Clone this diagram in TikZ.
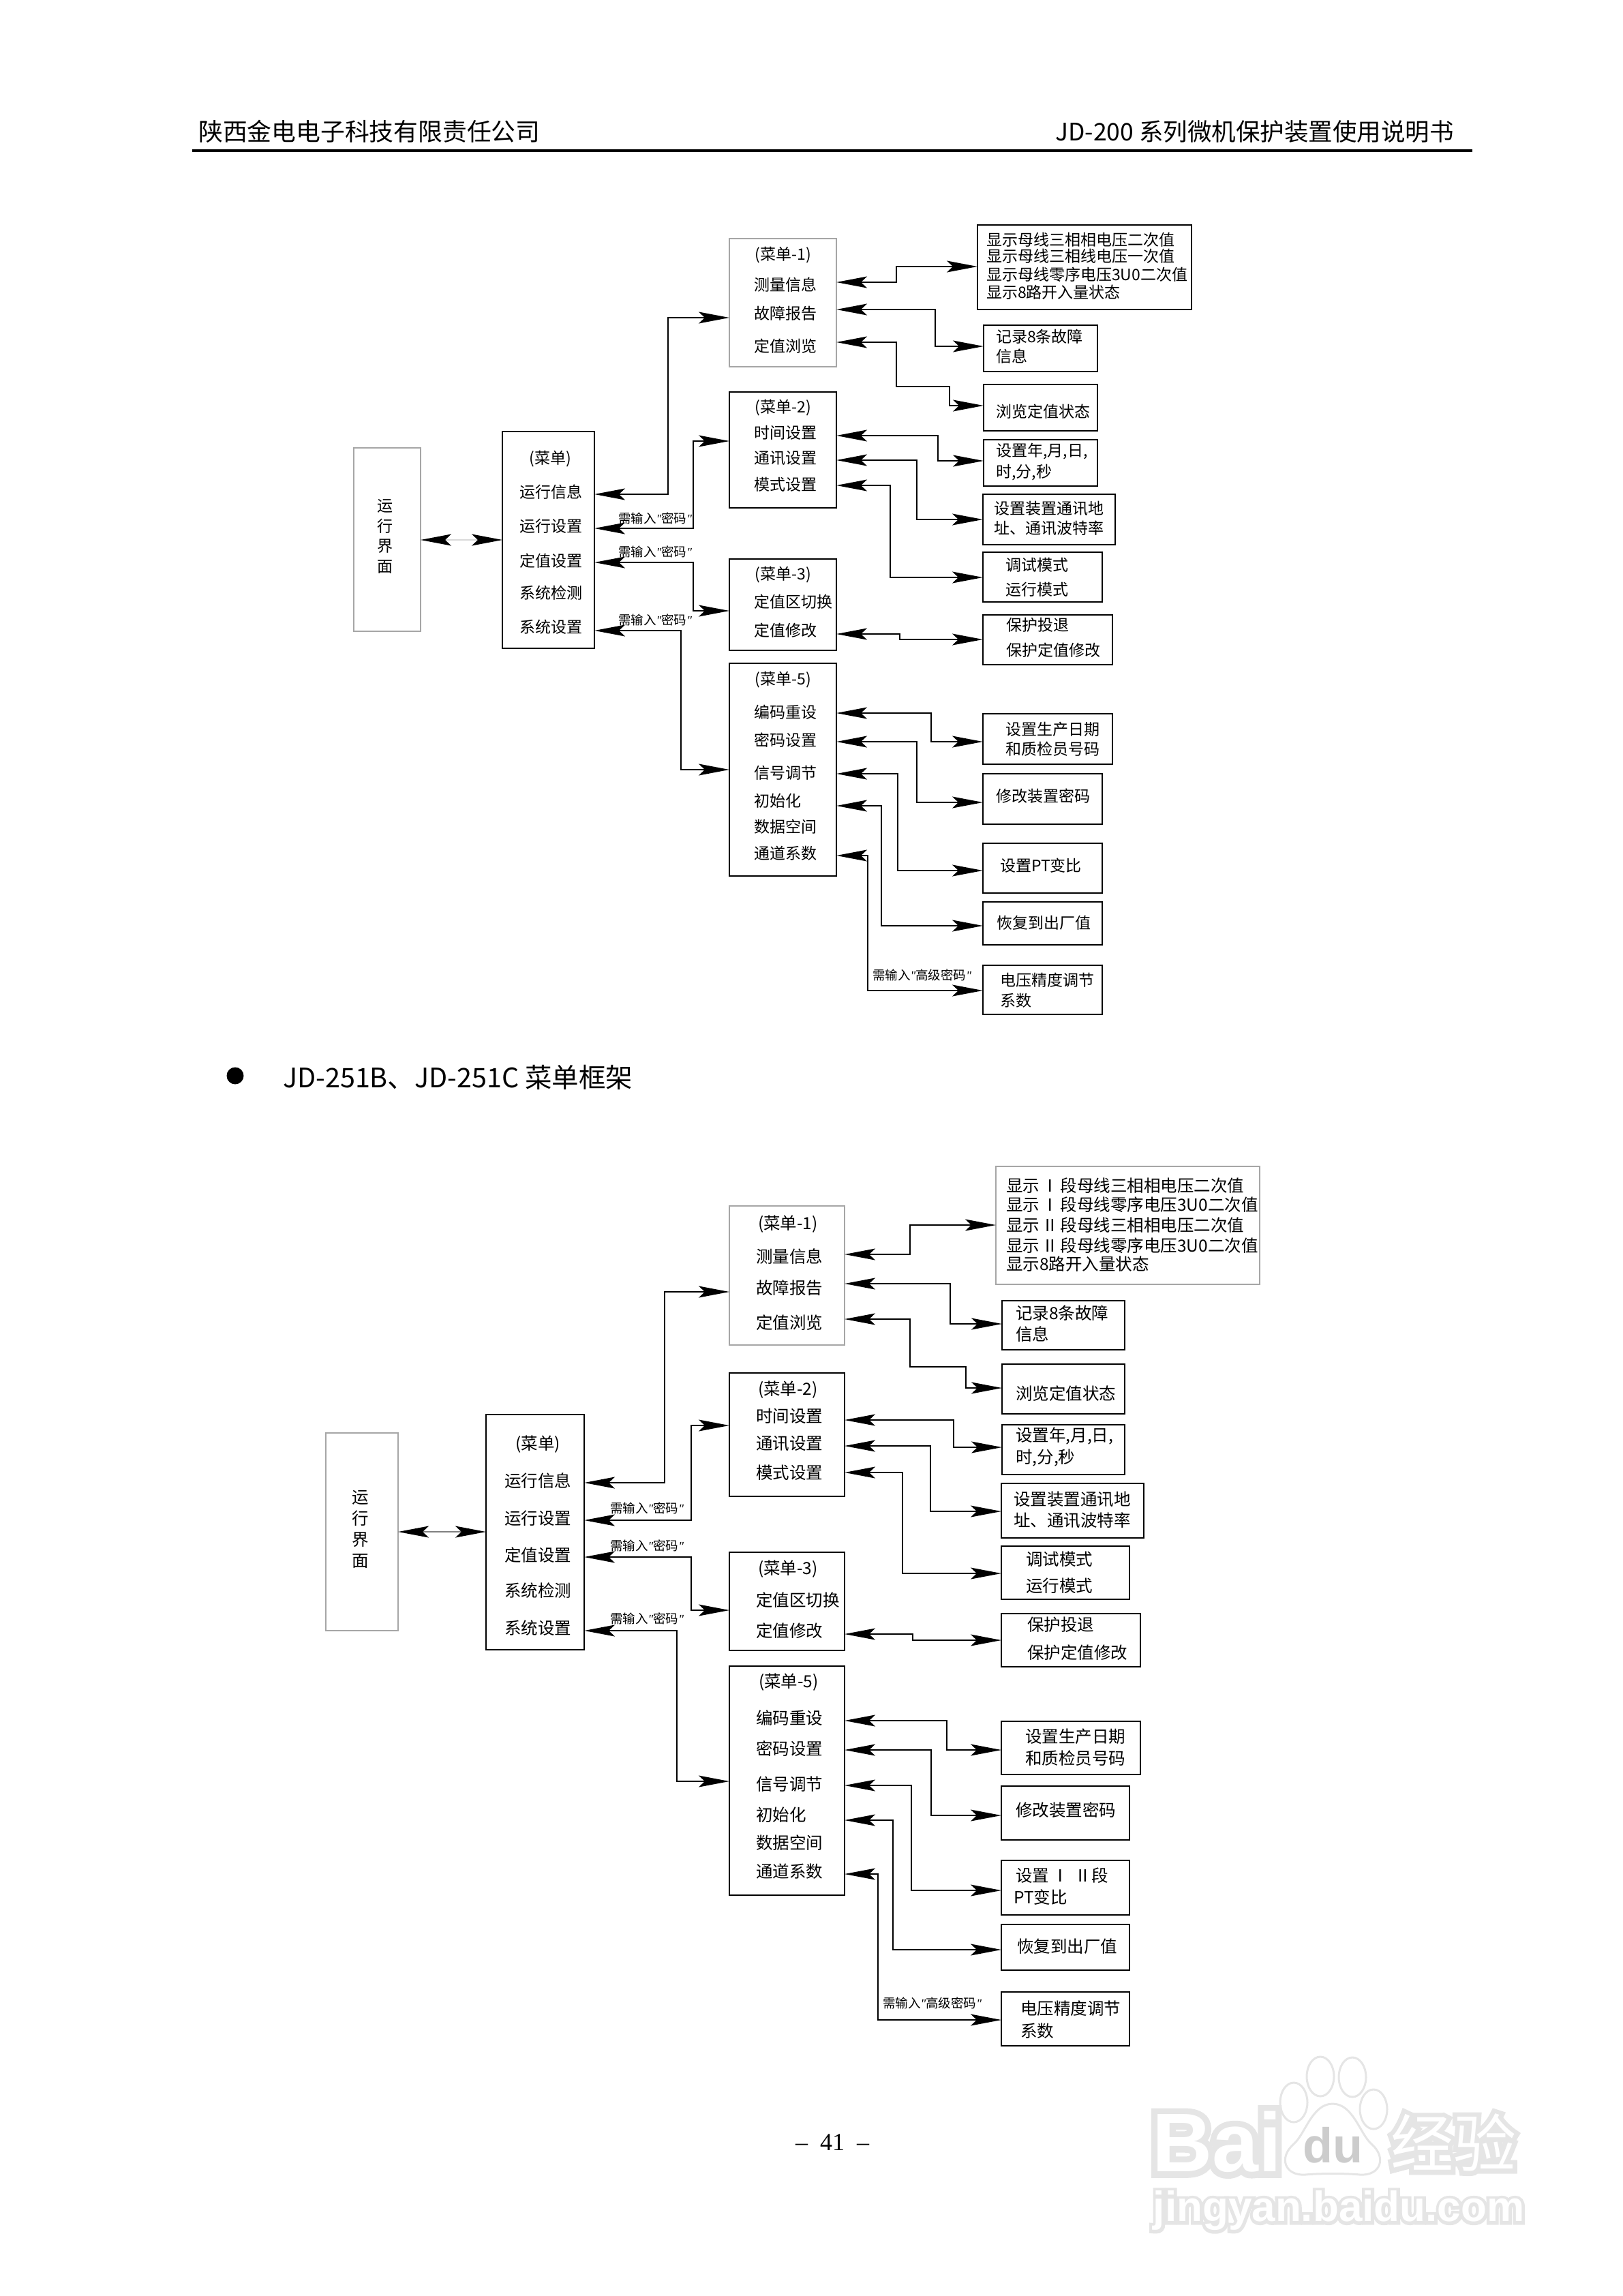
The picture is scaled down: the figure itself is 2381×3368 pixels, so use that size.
\documentclass[tikz,border=0pt]{standalone}
\usepackage{fontspec}
\usetikzlibrary{arrows.meta}
\setmainfont{Noto Sans CJK SC}
\newfontfamily\serifnum{Liberation Serif}
\newfontfamily\wmlatin[FakeBold=15]{Liberation Sans Bold}
\newfontfamily\wmlatinthin{Liberation Sans Bold}
\newfontfamily\wmcjk[FakeBold=15]{Noto Sans CJK SC}
\newfontfamily\wmcjkthin{Noto Sans CJK SC}
\newcommand{\qm}{{\serifnum\itshape"}}
\begin{document}
\begin{tikzpicture}[x=1pt, y=-1pt, >={Stealth[length=45pt,width=17pt,inset=9pt]},
    main/.style = {draw, line width=1.6pt, inner sep=0pt, outer sep=0pt},
    faint/.style = {draw=gray!70, line width=1.6pt, inner sep=0pt, outer sep=0pt},
    item/.style = {anchor=west, inner sep=0pt, font=\fontsize{23}{29.5}\selectfont},
    itemb/.style = {anchor=west, inner sep=0pt, font=\fontsize{24.5}{31}\selectfont},
    menu/.style = {inner sep=0pt, font=\fontsize{23}{29.5}\selectfont},
    menub/.style = {inner sep=0pt, font=\fontsize{24.5}{31}\selectfont},
    note/.style = {anchor=west, inner sep=0pt, font=\fontsize{18.5}{20}\selectfont},
    link/.style = {<->, line width=1.7pt},
    runlink/.style = {{Stealth[length=45pt,width=17pt,inset=9pt,black]}-{Stealth[length=45pt,width=17pt,inset=9pt,black]}},
    wmback/.style = {inner sep=0pt, text=black!10},
    wmfront/.style = {inner sep=0pt, text=white}]
\useasboundingbox (0,0) rectangle (2381,3368);

% page header
\node[anchor=west, inner sep=0pt, font=\fontsize{35.8}{40}\selectfont] (company) at (291,193) {陕西金电电子科技有限责任公司};
\node[anchor=east, inner sep=0pt, font=\fontsize{35.5}{40}\selectfont] (manual) at (2133,193) {JD-200 系列微机保护装置使用说明书};
\coordinate (ruleL) at (282,221);
\coordinate (ruleR) at (2160,221);
\draw[line width=3.5pt] (ruleL) -- (ruleR);

% upper diagram: boxes
\node[faint, minimum width=98pt, minimum height=269pt] (Run) at (568,791.5) {};
\node[main, minimum width=135pt, minimum height=318pt] (M) at (804.5,792) {};
\node[faint, minimum width=157pt, minimum height=188pt] (A) at (1148.5,444) {};
\node[main, minimum width=157pt, minimum height=170pt] (B) at (1148.5,660) {};
\node[main, minimum width=157pt, minimum height=134pt] (C) at (1148.5,887) {};
\node[main, minimum width=157pt, minimum height=312pt] (D) at (1148.5,1129) {};
\node[main, minimum width=314pt, minimum height=124pt] (R1) at (1591,392) {};
\node[main, minimum width=167pt, minimum height=68pt] (R2) at (1526.5,511) {};
\node[main, minimum width=167pt, minimum height=68pt] (R3) at (1526.5,598) {};
\node[main, minimum width=167pt, minimum height=68pt] (R4) at (1526.5,679) {};
\node[main, minimum width=194pt, minimum height=74pt] (R5) at (1539,762) {};
\node[main, minimum width=175pt, minimum height=73pt] (R6) at (1529.5,846.5) {};
\node[main, minimum width=190pt, minimum height=73pt] (R7) at (1537,938.5) {};
\node[main, minimum width=190pt, minimum height=74pt] (R8) at (1537,1084) {};
\node[main, minimum width=175pt, minimum height=74pt] (R9) at (1529.5,1172) {};
\node[main, minimum width=175pt, minimum height=73pt] (R10) at (1529.5,1273.5) {};
\node[main, minimum width=175pt, minimum height=63pt] (R11) at (1529.5,1354.5) {};
\node[main, minimum width=175pt, minimum height=72pt] (R12) at (1529.5,1452) {};

% upper diagram: texts
\node[menu, align=center] (tRun) at (565,787) {运\\行\\界\\面};
\node[menu] (tM0) at (807,673) {(菜单)};
\node[item] (tM1) at (762,722) {运行信息};
\node[item] (tM2) at (762,772) {运行设置};
\node[item] (tM3) at (762,823) {定值设置};
\node[item] (tM4) at (762,870) {系统检测};
\node[item] (tM5) at (762,920) {系统设置};
\node[menu] (tA0) at (1149,374) {(菜单-1)};
\node[item] (tA1) at (1106,418) {测量信息};
\node[item] (tA2) at (1106,460) {故障报告};
\node[item] (tA3) at (1106,508) {定值浏览};
\node[menu] (tB0) at (1149,598) {(菜单-2)};
\node[item] (tB1) at (1106,635) {时间设置};
\node[item] (tB2) at (1106,672) {通讯设置};
\node[item] (tB3) at (1106,711) {模式设置};
\node[menu] (tC0) at (1149,843) {(菜单-3)};
\node[item] (tC1) at (1106,883) {定值区切换};
\node[item] (tC2) at (1106,925) {定值修改};
\node[menu] (tD0) at (1149,997) {(菜单-5)};
\node[item] (tD1) at (1106,1044.5) {编码重设};
\node[item] (tD2) at (1106,1086) {密码设置};
\node[item] (tD3) at (1106,1134) {信号调节};
\node[item] (tD4) at (1106,1175) {初始化};
\node[item] (tD5) at (1106,1213) {数据空间};
\node[item] (tD6) at (1106,1252) {通道系数};
\node[item] (tR1a) at (1447,352) {显示母线三相相电压二次值};
\node[item] (tR1b) at (1447,376) {显示母线三相线电压一次值};
\node[item] (tR1c) at (1447,403) {显示母线零序电压3U0二次值};
\node[item] (tR1d) at (1447,429) {显示8路开入量状态};
\node[item] (tR2a) at (1461,494) {记录8条故障};
\node[item] (tR2b) at (1461,523) {信息};
\node[item] (tR3) at (1461,604) {浏览定值状态};
\node[item] (tR4a) at (1461,662) {设置年,月,日,};
\node[item] (tR4b) at (1461,693) {时,分,秒};
\node[item] (tR5a) at (1458,746) {设置装置通讯地};
\node[item] (tR5b) at (1458,775) {址、通讯波特率};
\node[item] (tR6a) at (1475,829) {调试模式};
\node[item] (tR6b) at (1475,865) {运行模式};
\node[item] (tR7a) at (1476,917) {保护投退};
\node[item] (tR7b) at (1476,954) {保护定值修改};
\node[item] (tR8a) at (1475,1070) {设置生产日期};
\node[item] (tR8b) at (1475,1099) {和质检员号码};
\node[item] (tR9) at (1461,1168) {修改装置密码};
\node[item] (tR10) at (1467,1270) {设置PT变比};
\node[item] (tR11) at (1462,1354) {恢复到出厂值};
\node[item] (tR12a) at (1467,1438) {电压精度调节};
\node[item] (tR12b) at (1467,1468) {系数};
\node[note] (nM2) at (907,760) {需输入\qm 密码\qm};
\node[note] (nM3) at (907,809) {需输入\qm 密码\qm};
\node[note] (nM5) at (907,909) {需输入\qm 密码\qm};
\node[note] (nD6) at (1280,1430) {需输入\qm 高级密码\qm};

% upper diagram: connectors
\draw[runlink, line width=1.7pt, draw=gray!30] (Run.east |- 0,792) -- (M.west |- 0,792);
\draw[link] (M.east |- 0,725) -- (980,725) -- (980,466) -- (A.west |- 0,466);
\draw[link] (M.east |- 0,775) -- (1017,775) -- (1017,647) -- (B.west |- 0,647);
\draw[link] (M.east |- 0,825) -- (1017,825) -- (1017,896) -- (C.west |- 0,896);
\draw[link] (M.east |- 0,925) -- (999,925) -- (999,1129) -- (D.west |- 0,1129);
\draw[link] (A.east |- 0,414) -- (1315,414) -- (1315,391) -- (R1.west |- 0,391);
\draw[link] (A.east |- 0,454) -- (1372,454) -- (1372,508) -- (R2.west |- 0,508);
\draw[link] (A.east |- 0,502) -- (1315,502) -- (1315,567) -- (1393,567) -- (1393,595) -- (R3.west |- 0,595);
\draw[link] (B.east |- 0,639) -- (1376,639) -- (1376,676) -- (R4.west |- 0,676);
\draw[link] (B.east |- 0,675) -- (1345,675) -- (1345,762) -- (R5.west |- 0,762);
\draw[link] (B.east |- 0,712) -- (1306,712) -- (1306,847) -- (R6.west |- 0,847);
\draw[link] (C.east |- 0,930) -- (1320,930) -- (1320,938) -- (R7.west |- 0,938);
\draw[link] (D.east |- 0,1046) -- (1366,1046) -- (1366,1088) -- (R8.west |- 0,1088);
\draw[link] (D.east |- 0,1088) -- (1345,1088) -- (1345,1177) -- (R9.west |- 0,1177);
\draw[link] (D.east |- 0,1135) -- (1317,1135) -- (1317,1277) -- (R10.west |- 0,1277);
\draw[link] (D.east |- 0,1182) -- (1293,1182) -- (1293,1358) -- (R11.west |- 0,1358);
\draw[link] (D.east |- 0,1255) -- (1273,1255) -- (1273,1453) -- (R12.west |- 0,1453);

% section title
\node[circle, fill, inner sep=0pt, minimum size=25pt] (dot) at (345,1578) {};
\node[anchor=west, inner sep=0pt, font=\fontsize{39.5}{44}\selectfont] (title) at (415,1580) {JD-251B、JD-251C 菜单框架};

% lower diagram: boxes
\node[faint, minimum width=106pt, minimum height=290pt] (Run2) at (531,2247) {};
\node[main, minimum width=144pt, minimum height=345pt] (M2) at (785,2247.5) {};
\node[faint, minimum width=169pt, minimum height=204pt] (A2) at (1154.5,1871) {};
\node[main, minimum width=169pt, minimum height=181pt] (B2) at (1154.5,2104.5) {};
\node[main, minimum width=169pt, minimum height=144pt] (C2) at (1154.5,2349) {};
\node[main, minimum width=169pt, minimum height=336pt] (D2) at (1154.5,2612) {};
\node[faint, minimum width=387pt, minimum height=173pt] (S1) at (1654.5,1797.5) {};
\node[main, minimum width=180pt, minimum height=72pt] (S2) at (1560,1944) {};
\node[main, minimum width=180pt, minimum height=73pt] (S3) at (1560,2037.5) {};
\node[main, minimum width=180pt, minimum height=73pt] (S4) at (1560,2126.5) {};
\node[main, minimum width=209pt, minimum height=80pt] (S5) at (1573.5,2216) {};
\node[main, minimum width=188pt, minimum height=78pt] (S6) at (1563,2307) {};
\node[main, minimum width=204pt, minimum height=78pt] (S7) at (1571,2406) {};
\node[main, minimum width=204pt, minimum height=78pt] (S8) at (1571,2564) {};
\node[main, minimum width=188pt, minimum height=79pt] (S9) at (1563,2659.5) {};
\node[main, minimum width=188pt, minimum height=80pt] (S10) at (1563,2769) {};
\node[main, minimum width=188pt, minimum height=67pt] (S11) at (1563,2856.5) {};
\node[main, minimum width=188pt, minimum height=79pt] (S12) at (1563,2961.5) {};

% lower diagram: texts
\node[menub, align=center] (uRun) at (529,2243.5) {运\\行\\界\\面};
\node[menub] (uM0) at (789,2119) {(菜单)};
\node[itemb] (uM1) at (740,2172) {运行信息};
\node[itemb] (uM2) at (740,2227) {运行设置};
\node[itemb] (uM3) at (740,2281) {定值设置};
\node[itemb] (uM4) at (740,2333) {系统检测};
\node[itemb] (uM5) at (740,2388) {系统设置};
\node[menub] (uA0) at (1156,1796) {(菜单-1)};
\node[itemb] (uA1) at (1109,1843) {测量信息};
\node[itemb] (uA2) at (1109,1889) {故障报告};
\node[itemb] (uA3) at (1109,1940) {定值浏览};
\node[menub] (uB0) at (1156,2039) {(菜单-2)};
\node[itemb] (uB1) at (1109,2077) {时间设置};
\node[itemb] (uB2) at (1109,2118) {通讯设置};
\node[itemb] (uB3) at (1109,2160) {模式设置};
\node[menub] (uC0) at (1156,2302) {(菜单-3)};
\node[itemb] (uC1) at (1109,2347) {定值区切换};
\node[itemb] (uC2) at (1109,2392) {定值修改};
\node[menub] (uD0) at (1157,2468) {(菜单-5)};
\node[itemb] (uD1) at (1109,2520) {编码重设};
\node[itemb] (uD2) at (1109,2565) {密码设置};
\node[itemb] (uD3) at (1109,2617) {信号调节};
\node[itemb] (uD4) at (1109,2662) {初始化};
\node[itemb] (uD5) at (1109,2703) {数据空间};
\node[itemb] (uD6) at (1109,2745) {通道系数};
\node[itemb] (uS1a) at (1476,1739) {显示\kern3pt Ⅰ\kern3pt 段母线三相相电压二次值};
\node[itemb] (uS1b) at (1476,1767) {显示\kern3pt Ⅰ\kern3pt 段母线零序电压3U0二次值};
\node[itemb] (uS1c) at (1476,1797) {显示\kern3pt Ⅱ\kern3pt 段母线三相相电压二次值};
\node[itemb] (uS1d) at (1476,1827) {显示\kern3pt Ⅱ\kern3pt 段母线零序电压3U0二次值};
\node[itemb] (uS1e) at (1476,1854) {显示8路开入量状态};
\node[itemb] (uS2a) at (1490,1926) {记录8条故障};
\node[itemb] (uS2b) at (1490,1957) {信息};
\node[itemb] (uS3) at (1490,2044) {浏览定值状态};
\node[itemb] (uS4a) at (1490,2106) {设置年,月,日,};
\node[itemb] (uS4b) at (1490,2139) {时,分,秒};
\node[itemb] (uS5a) at (1487,2199) {设置装置通讯地};
\node[itemb] (uS5b) at (1487,2230) {址、通讯波特率};
\node[itemb] (uS6a) at (1505,2287) {调试模式};
\node[itemb] (uS6b) at (1505,2326) {运行模式};
\node[itemb] (uS7a) at (1507,2383) {保护投退};
\node[itemb] (uS7b) at (1507,2424) {保护定值修改};
\node[itemb] (uS8a) at (1504,2547) {设置生产日期};
\node[itemb] (uS8b) at (1504,2579) {和质检员号码};
\node[itemb] (uS9) at (1490,2655) {修改装置密码};
\node[itemb] (uS10a) at (1490,2751) {设置\kern4pt Ⅰ\kern9pt Ⅱ段};
\node[itemb] (uS10b) at (1487,2783) {PT变比};
\node[itemb] (uS11) at (1492,2855) {恢复到出厂值};
\node[itemb] (uS12a) at (1497,2946) {电压精度调节};
\node[itemb] (uS12b) at (1497,2979) {系数};
\node[note] (mM2) at (895,2212) {需输入\qm 密码\qm};
\node[note] (mM3) at (895,2267) {需输入\qm 密码\qm};
\node[note] (mM5) at (895,2374) {需输入\qm 密码\qm};
\node[note] (mD6) at (1295,2938) {需输入\qm 高级密码\qm};

% lower diagram: connectors
\draw[runlink, line width=1.6pt, draw=gray] (Run2.east |- 0,2247) -- (M2.west |- 0,2247);
\draw[link] (M2.east |- 0,2175) -- (975,2175) -- (975,1895) -- (A2.west |- 0,1895);
\draw[link] (M2.east |- 0,2230) -- (1014,2230) -- (1014,2091) -- (B2.west |- 0,2091);
\draw[link] (M2.east |- 0,2284) -- (1014,2284) -- (1014,2362) -- (C2.west |- 0,2362);
\draw[link] (M2.east |- 0,2392) -- (993,2392) -- (993,2613) -- (D2.west |- 0,2613);
\draw[link] (A2.east |- 0,1840) -- (1335,1840) -- (1335,1797) -- (S1.west |- 0,1797);
\draw[link] (A2.east |- 0,1883) -- (1394,1883) -- (1394,1942) -- (S2.west |- 0,1942);
\draw[link] (A2.east |- 0,1935) -- (1335,1935) -- (1335,2005) -- (1417,2005) -- (1417,2036) -- (S3.west |- 0,2036);
\draw[link] (B2.east |- 0,2083) -- (1399,2083) -- (1399,2123) -- (S4.west |- 0,2123);
\draw[link] (B2.east |- 0,2121) -- (1365,2121) -- (1365,2217) -- (S5.west |- 0,2217);
\draw[link] (B2.east |- 0,2160) -- (1324,2160) -- (1324,2308) -- (S6.west |- 0,2308);
\draw[link] (C2.east |- 0,2397) -- (1339,2397) -- (1339,2406) -- (S7.west |- 0,2406);
\draw[link] (D2.east |- 0,2524) -- (1389,2524) -- (1389,2567) -- (S8.west |- 0,2567);
\draw[link] (D2.east |- 0,2567) -- (1366,2567) -- (1366,2663) -- (S9.west |- 0,2663);
\draw[link] (D2.east |- 0,2619) -- (1337,2619) -- (1337,2773) -- (S10.west |- 0,2773);
\draw[link] (D2.east |- 0,2670) -- (1310,2670) -- (1310,2860) -- (S11.west |- 0,2860);
\draw[link] (D2.east |- 0,2749) -- (1288,2749) -- (1288,2963) -- (S12.west |- 0,2963);

% page number
\node[inner sep=0pt, font=\serifnum\fontsize{36}{40}\selectfont] (page) at (1221,3143) {–\hspace{18pt}41\hspace{18pt}–};

% watermark
\draw[draw=black!10, line width=3pt] (1937,3046) ellipse (20 and 29);
\draw[draw=black!10, line width=3pt] (1984,3047) ellipse (20 and 29);
\draw[draw=black!10, line width=3pt] (1898,3084) ellipse (20 and 29);
\draw[draw=black!10, line width=3pt] (2015,3094) ellipse (20 and 29);
\draw[draw=black!10, line width=3pt] (1955,3086) .. controls (1925,3086) and (1915,3130) .. (1898,3145) .. controls (1875,3165) and (1885,3192) .. (1915,3190) .. controls (1935,3188) and (1975,3188) .. (1995,3190) .. controls (2025,3192) and (2035,3165) .. (2012,3145) .. controls (1995,3130) and (1985,3086) .. (1955,3086) -- cycle;
\node[wmback, font=\wmlatin\fontsize{122}{122}\selectfont] (wBaiB) at (1785,3142) {Bai};
\node[wmfront, font=\wmlatinthin\fontsize{122}{122}\selectfont] (wBai) at (1785,3142) {Bai};
\node[inner sep=0pt, text=black!20, font=\wmlatinthin\fontsize{72}{72}\selectfont] (wdu) at (1955,3147) {du};
\node[wmback, font=\wmcjk\fontsize{92}{92}\selectfont] (wJyB) at (2132,3143) {经验};
\node[wmfront, font=\wmcjkthin\fontsize{92}{92}\selectfont] (wJy) at (2132,3143) {经验};
\node[wmback, font=\wmlatin\fontsize{62}{62}\selectfont] (wUrlB) at (1964,3243) {jingyan.baidu.com};
\node[wmfront, font=\wmlatinthin\fontsize{62}{62}\selectfont] (wUrl) at (1964,3243) {jingyan.baidu.com};
\end{tikzpicture}
\end{document}
